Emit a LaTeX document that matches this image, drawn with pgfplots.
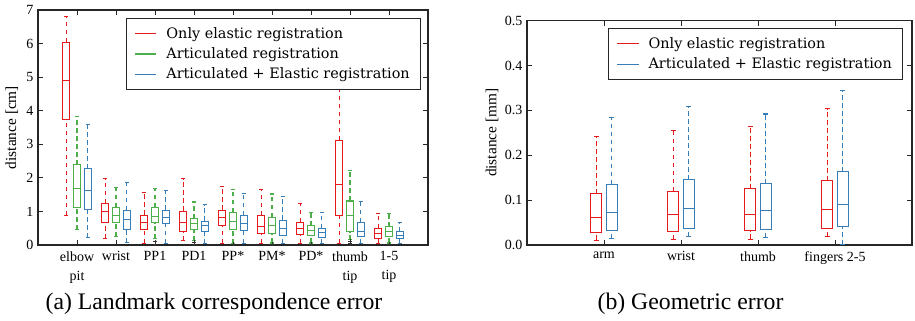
\documentclass[border=0pt]{standalone}
\usepackage{pgfplots}
\pgfplotsset{compat=1.18}
\usepgfplotslibrary{statistics}
\usepackage{fontspec}
\setmainfont{Liberation Serif}
\newfontfamily\legfont{DejaVu Serif}
\definecolor{cR}{RGB}{228,26,28}
\definecolor{cG}{RGB}{77,175,74}
\definecolor{cB}{RGB}{55,126,184}
\newcommand{\bx}[7]{\addplot[#2, line width=0.8pt, forget plot, boxplot prepared={draw direction=y, draw position=#1, lower whisker=#3, lower quartile=#4, median=#5, upper quartile=#6, upper whisker=#7}] coordinates {};}
\pgfplotsset{
  common/.style={
    scale only axis,
    anchor=south west,
    axis line style={line width=0.9pt, black!85},
    tick align=inside,
    xtick pos=both, ytick pos=both,
    major tick length=4pt,
    major tick style={black!85, line width=0.7pt},
    tick label style={font=\fontsize{10.5}{14}\selectfont},
    xticklabel style={yshift=-1.5pt},
    /pgf/number format/assume math mode=true,
    legend image code/.code={\draw[##1, line width=0.9pt] (0pt,0pt) -- (16pt,0pt); \path (21pt,0pt);},
    legend cell align=left,
    boxplot/draw direction=y,
    boxplot/draw/lower whisker/.code={
      \draw[dash pattern=on 3.5pt off 2.5pt] (boxplot box cs:\pgfplotsboxplotvalue{lower whisker},0.5) -- (boxplot box cs:\pgfplotsboxplotvalue{lower quartile},0.5);
      \draw[solid] (boxplot whisker cs:\pgfplotsboxplotvalue{lower whisker},0) -- (boxplot whisker cs:\pgfplotsboxplotvalue{lower whisker},1);
    },
    boxplot/draw/upper whisker/.code={
      \draw[dash pattern=on 3.5pt off 2.5pt] (boxplot box cs:\pgfplotsboxplotvalue{upper quartile},0.5) -- (boxplot box cs:\pgfplotsboxplotvalue{upper whisker},0.5);
      \draw[solid] (boxplot whisker cs:\pgfplotsboxplotvalue{upper whisker},0) -- (boxplot whisker cs:\pgfplotsboxplotvalue{upper whisker},1);
    },
    mylegend/.style={legend style={at={(rel axis cs:##1)}, anchor=north east, draw=black!85, line width=0.9pt, fill=white, font=\legfont\fontsize{10.8}{12.5}\selectfont, row sep=1.5pt, inner xsep=6pt, inner ysep=4.5pt}},
  }
}
\begin{document}
\begin{tikzpicture}
\path[use as bounding box] (0,0) rectangle (686.25pt,240.75pt);
\begin{axis}[common,
  at={(28.5pt,57pt)}, width=292.5pt, height=176.25pt,
  xmin=0, xmax=10, ymin=0, ymax=7,
  xtick={1,...,9},
  xticklabels={elbow\\pit, wrist, PP1, PD1, PP*, PM*, PD*, thumb\\tip, 1-5\\tip},
  xticklabel style={align=center},
  ytick={0,1,...,7},
  extra description/.code={\node[rotate=90, font=\fontsize{11.5}{13}\selectfont] at (-0.067,0.5) {distance [cm]};},
  boxplot/box extend=0.16, boxplot/whisker extend=0.12,
  mylegend={0.982,0.966},
]
\addlegendimage{draw=cR}\addlegendentry{Only elastic registration}
\addlegendimage{draw=cG}\addlegendentry{Articulated registration}
\addlegendimage{draw=cB}\addlegendentry{Articulated + Elastic registration}
% elbow pit
\bx{0.72}{cR}{0.88}{3.74}{4.90}{6.04}{6.82}
\bx{1.00}{cG}{0.45}{1.12}{1.68}{2.39}{3.84}
\bx{1.28}{cB}{0.21}{1.06}{1.63}{2.27}{3.60}
% wrist
\bx{1.72}{cR}{0.19}{0.68}{1.00}{1.24}{1.97}
\bx{2.00}{cG}{0.25}{0.67}{0.89}{1.12}{1.71}
\bx{2.28}{cB}{0.07}{0.47}{0.75}{1.03}{1.86}
% PP1
\bx{2.72}{cR}{0.05}{0.45}{0.66}{0.89}{1.56}
\bx{3.00}{cG}{0.18}{0.67}{0.86}{1.12}{1.67}
\bx{3.28}{cB}{0.05}{0.63}{0.83}{1.04}{1.63}
% PD1
\bx{3.72}{cR}{0.13}{0.40}{0.66}{1.01}{1.97}
\bx{4.00}{cG}{0.13}{0.47}{0.64}{0.78}{1.28}
\bx{4.28}{cB}{0.04}{0.40}{0.57}{0.71}{1.20}
% PP*
\bx{4.72}{cR}{0.05}{0.59}{0.82}{1.04}{1.74}
\bx{5.00}{cG}{0.04}{0.47}{0.70}{0.97}{1.64}
\bx{5.28}{cB}{0.05}{0.44}{0.65}{0.88}{1.54}
% PM*
\bx{5.72}{cR}{0.05}{0.33}{0.56}{0.88}{1.66}
\bx{6.00}{cG}{0.06}{0.34}{0.57}{0.82}{1.52}
\bx{6.28}{cB}{0.04}{0.29}{0.48}{0.74}{1.44}
% PD*
\bx{6.72}{cR}{0.05}{0.31}{0.50}{0.68}{1.23}
\bx{7.00}{cG}{0.06}{0.27}{0.43}{0.57}{0.96}
\bx{7.28}{cB}{0.05}{0.23}{0.37}{0.50}{0.96}
% thumb tip
\bx{7.72}{cR}{0.05}{0.89}{1.81}{3.12}{5.20}
\bx{8.00}{cG}{0.15}{0.40}{0.87}{1.31}{2.23}
\bx{8.28}{cB}{0.05}{0.25}{0.41}{0.68}{1.29}
% 1-5 tip
\bx{8.72}{cR}{0.05}{0.19}{0.35}{0.50}{0.94}
\bx{9.00}{cG}{0.06}{0.25}{0.41}{0.55}{0.94}
\bx{9.28}{cB}{0.05}{0.18}{0.28}{0.39}{0.66}
% outliers
\addplot[only marks, mark=+, mark size=1.6pt, black!80, line width=0.6pt, forget plot] coordinates {
  (3,0.10) (3,0.03) (4,0.09) (4,0.03) (5,0.02) (6,0.03) (7,0.03) (8,0.11) (8,0.04) (9,0.03)};
\end{axis}
\begin{axis}[common,
  at={(395.25pt,57pt)}, width=288.75pt, height=168.2pt,
  xmin=0, xmax=5, ymin=0, ymax=0.5,
  xtick={1,2,3,4},
  xticklabels={arm, wrist, thumb, fingers 2-5},
  ytick={0,0.1,...,0.5},
  yticklabel style={/pgf/number format/.cd, fixed, fixed zerofill, precision=1},
  extra description/.code={\node[rotate=90, font=\fontsize{11.5}{13}\selectfont] at (-0.091,0.5) {distance [mm]};},
  boxplot/box extend=0.14, boxplot/whisker extend=0.07,
  mylegend={0.977,0.967},
]
\addlegendimage{draw=cR}\addlegendentry{Only elastic registration}
\addlegendimage{draw=cB}\addlegendentry{Articulated + Elastic registration}
\bx{0.9}{cR}{0.011}{0.028}{0.062}{0.114}{0.241}
\bx{1.1}{cB}{0.014}{0.033}{0.073}{0.135}{0.285}
\bx{1.9}{cR}{0.012}{0.031}{0.067}{0.120}{0.256}
\bx{2.1}{cB}{0.019}{0.037}{0.081}{0.146}{0.308}
\bx{2.9}{cR}{0.013}{0.032}{0.068}{0.125}{0.264}
\bx{3.1}{cB}{0.016}{0.035}{0.076}{0.137}{0.292}
\bx{3.9}{cR}{0.019}{0.036}{0.080}{0.143}{0.304}
\bx{4.1}{cB}{0.000}{0.042}{0.091}{0.163}{0.345}
\end{axis}
\node[font=\fontsize{17.8}{20}\selectfont, anchor=base] at (160.5pt,8.25pt) {(a) Landmark correspondence error};
\node[font=\fontsize{17.8}{20}\selectfont, anchor=base] at (517.9pt,8.25pt) {(b) Geometric error};
\end{tikzpicture}
\end{document}
